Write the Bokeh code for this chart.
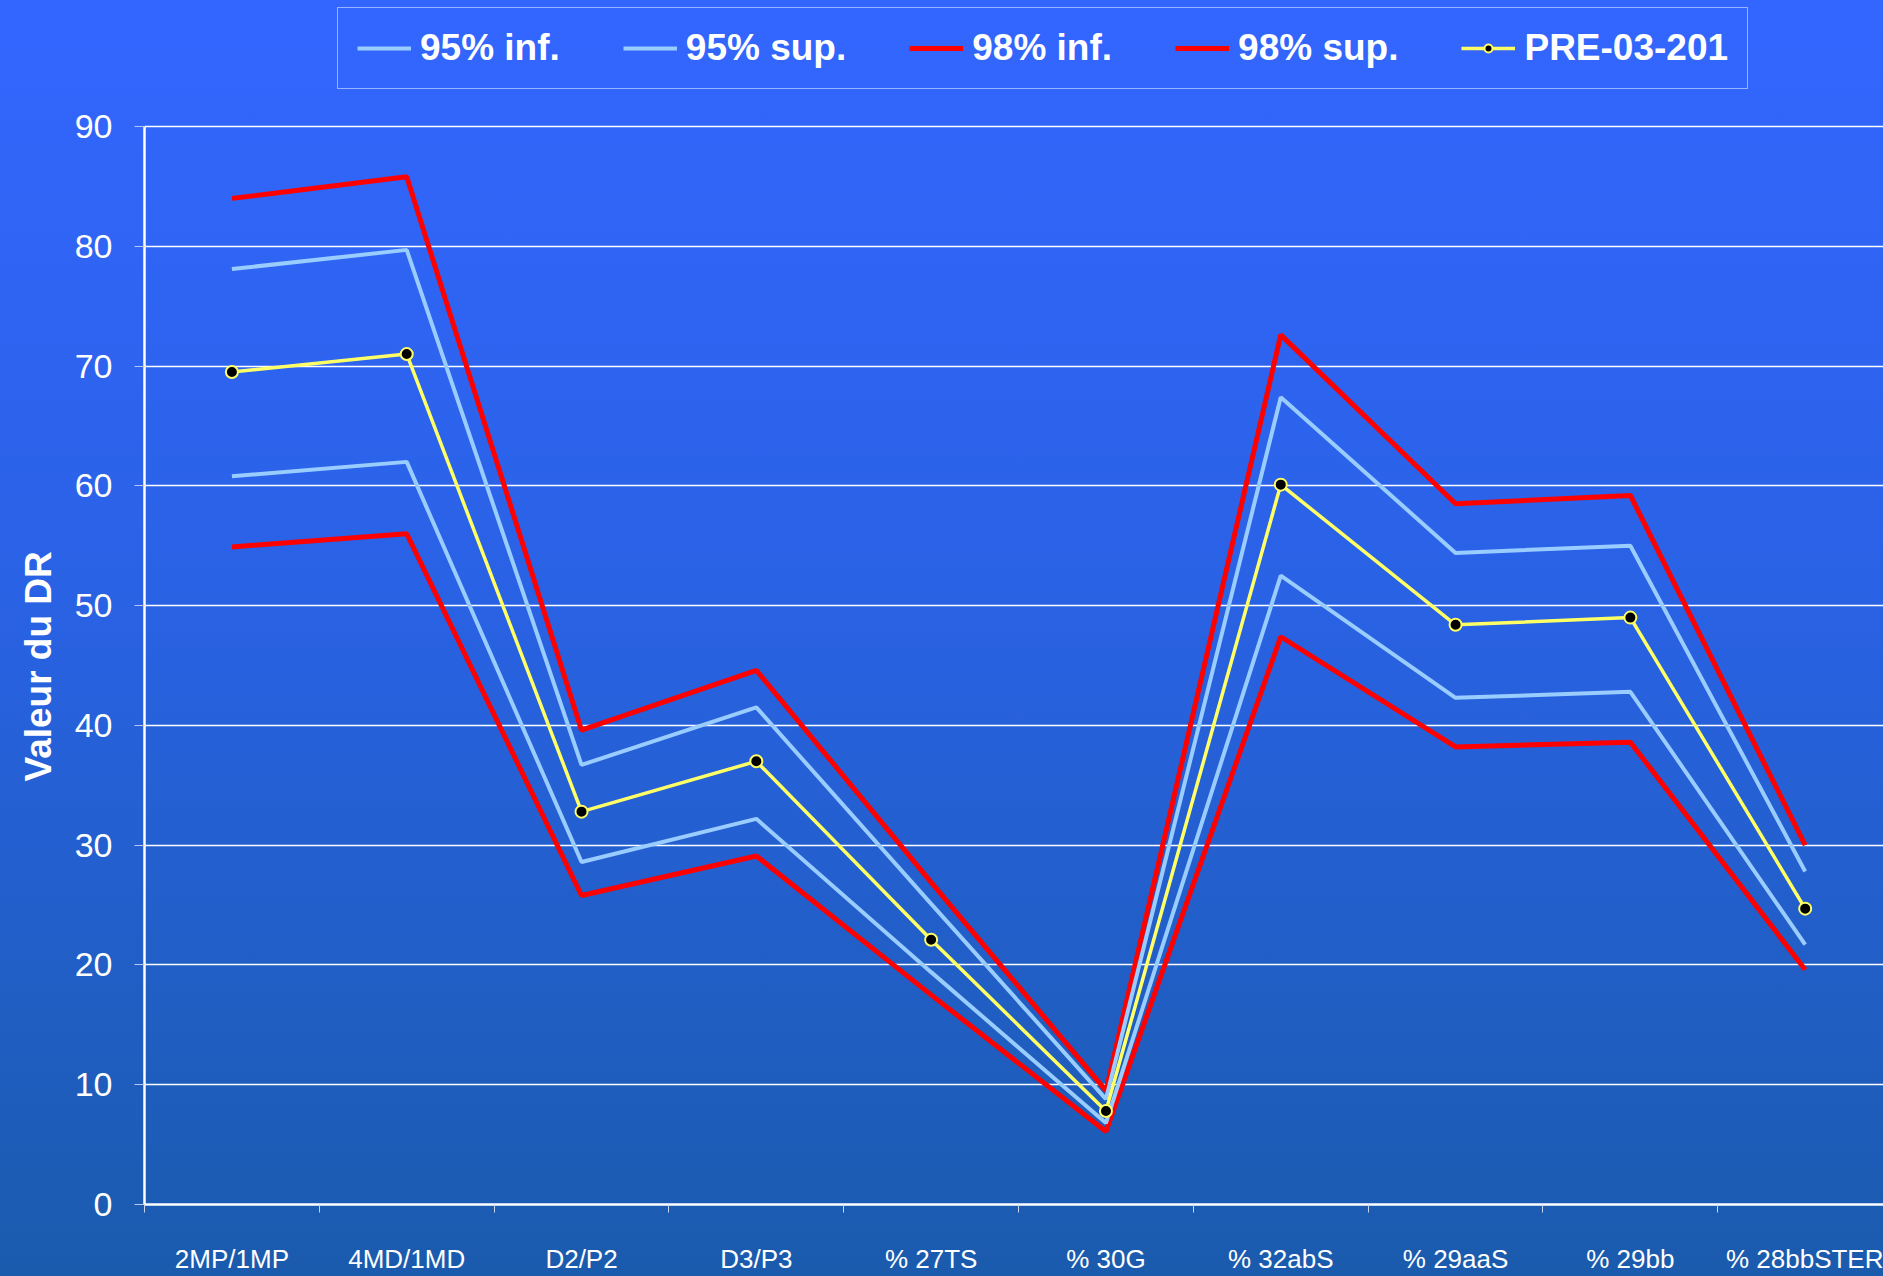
from bokeh.plotting import figure
from bokeh.models import (Range1d, FixedTicker, Legend, LegendItem, Title,
                          GlobalInlineStyleSheet)
from bokeh.embed import file_html
from bokeh.resources import INLINE

categories = ["2MP/1MP", "4MD/1MD", "D2/P2", "D3/P3", "% 27TS", "% 30G",
              "% 32abS", "% 29aaS", "% 29bb", "% 28bbSTER"]
inf95 = [60.8, 62.0, 28.6, 32.2, 19.4, 6.8, 52.5, 42.3, 42.8, 21.7]
sup95 = [78.1, 79.7, 36.7, 41.5, 25.1, 8.8, 67.4, 54.4, 55.0, 27.8]
inf98 = [54.9, 56.0, 25.8, 29.1, 17.5, 6.1, 47.4, 38.2, 38.6, 19.6]
sup98 = [84.0, 85.8, 39.6, 44.6, 26.9, 9.5, 72.6, 58.5, 59.2, 30.0]
pre = [69.5, 71.0, 32.8, 37.0, 22.1, 7.8, 60.1, 48.4, 49.0, 24.7]
y_ticks = [0, 10, 20, 30, 40, 50, 60, 70, 80, 90]

xs = list(range(len(categories)))

css = GlobalInlineStyleSheet(css="""
html { background: linear-gradient(to bottom, #3366FF 0%, #2A62E6 45%, #1A5BAD 100%) no-repeat; min-height: 100%; }
body { margin: 0; overflow: hidden; background: transparent; }
""")

# frame spans the full height above the axis; 90 sits ~126px below the top
p = figure(width=1883, height=1276, output_backend="svg", toolbar_location=None,
           x_range=Range1d(-0.5, 9.448), y_range=Range1d(0, 100.52),
           min_border_left=144, min_border_right=0, min_border_top=0,
           min_border_bottom=72)
p.stylesheets = [css]
p.background_fill_alpha = 0
p.border_fill_alpha = 0
p.outline_line_color = None

lb = "#99CCFF"
red = "#FF0000"
yel = "#FFFF66"

r_i98 = p.line(xs, inf98, line_color=red, line_width=5)
r_s98 = p.line(xs, sup98, line_color=red, line_width=5)
r_i95 = p.line(xs, inf95, line_color=lb, line_width=4)
r_s95 = p.line(xs, sup95, line_color=lb, line_width=4)
r_pre = p.line(xs, pre, line_color=yel, line_width=3.5)
r_pts = p.scatter(xs, pre, marker="circle", size=12, fill_color="black",
                  line_color=yel, line_width=2)

# axes
p.xaxis.ticker = FixedTicker(ticks=xs, minor_ticks=[i - 0.5 for i in range(11)])
p.xaxis.major_label_overrides = {i: c for i, c in enumerate(categories)}
p.xaxis.major_tick_out = 0
p.xaxis.major_tick_in = 0
p.xaxis.minor_tick_out = 8
p.xaxis.minor_tick_in = 0
p.xaxis.minor_tick_line_color = "#C8D6F0"
p.xaxis.axis_line_color = "white"
p.xaxis.axis_line_width = 2.5
p.xaxis.major_label_text_color = "white"
p.xaxis.major_label_text_font = "Liberation Sans"
p.xaxis.major_label_text_font_size = "26px"
p.xaxis.major_label_standoff = 31

p.yaxis.ticker = FixedTicker(ticks=y_ticks, minor_ticks=[])
p.yaxis.bounds = (0, 90)
p.yaxis.major_tick_out = 10
p.yaxis.major_tick_in = 0
p.yaxis.major_tick_line_color = "#B8C8EE"
p.yaxis.axis_line_color = "white"
p.yaxis.axis_line_width = 2.5
p.yaxis.major_label_text_color = "white"
p.yaxis.major_label_text_font = "Liberation Sans"
p.yaxis.major_label_text_font_size = "34px"
p.yaxis.major_label_standoff = 22

# y-axis title, centred on the 0..90 span (not the whole frame)
ytitle = Title(text="Valeur du DR", align="left", offset=423,
               text_color="white", text_font="Liberation Sans",
               text_font_style="bold", text_font_size="37px", standoff=26)
p.add_layout(ytitle, "left")

p.xgrid.grid_line_color = None
p.ygrid.ticker = FixedTicker(ticks=y_ticks)
p.ygrid.grid_line_color = "white"
p.ygrid.grid_line_width = 1.5

legend = Legend(items=[
    LegendItem(label="95% inf.", renderers=[r_i95]),
    LegendItem(label="95% sup.", renderers=[r_s95]),
    LegendItem(label="98% inf.", renderers=[r_i98]),
    LegendItem(label="98% sup.", renderers=[r_s98]),
    LegendItem(label="PRE-03-201", renderers=[r_pre, r_pts]),
], orientation="horizontal", location=(193, 1115))
legend.label_text_color = "white"
legend.label_text_font = "Liberation Sans"
legend.label_text_font_style = "bold"
legend.label_text_font_size = "37px"
legend.glyph_width = 54
legend.label_standoff = 9
legend.spacing = 63
legend.padding = 19
legend.margin = 0
legend.background_fill_alpha = 0
legend.border_line_color = "white"
legend.border_line_width = 1.5
p.add_layout(legend, "center")

open("out.html", "w").write(file_html(p, INLINE))
